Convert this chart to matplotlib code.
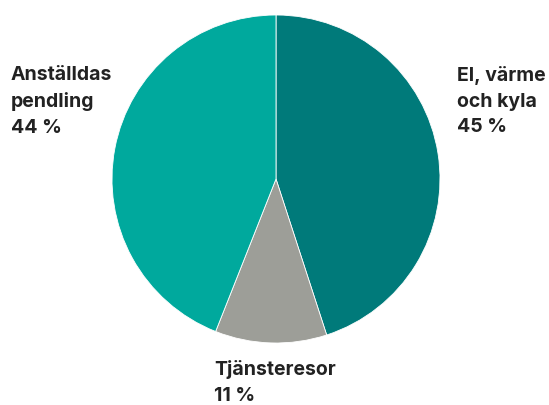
import matplotlib

matplotlib.use("Agg")
import matplotlib.pyplot as plt

# Andelar av utsläppen
CATEGORIES = ["El, värme\noch kyla", "Tjänsteresor", "Anställdas\npendling"]
VALUES = [45, 11, 44]
COLORS = ["#007A7A", "#9D9E98", "#00A99D"]

W, H = 549, 405
DPI = 100

fig = plt.figure(figsize=(W / DPI, H / DPI), dpi=DPI)

# pajen: centrum ca (276, 179) px, radie 164 px
cx, cy, r = 276, 179, 164
ax = fig.add_axes([(cx - r) / W, (H - cy - r) / H, 2 * r / W, 2 * r / H])
ax.pie(
    VALUES,
    colors=COLORS,
    startangle=90,
    counterclock=False,
    wedgeprops=dict(edgecolor="white", linewidth=0.6),
    radius=1.0,
)
ax.set_xlim(-1, 1)
ax.set_ylim(-1, 1)
ax.set_aspect("auto")
ax.axis("off")

# etiketter i pixelkoordinater (x, y från toppen)
LABEL_POS = [(457, 66), (214, 360), (11, 66)]
for cat, val, (px, py) in zip(CATEGORIES, VALUES, LABEL_POS):
    fig.text(
        px / W,
        1 - py / H,
        f"{cat}\n{val} %",
        ha="left",
        va="top",
        fontsize=14,
        fontweight="bold",
        family=["Inter", "DejaVu Sans"],
        color="#222222",
        linespacing=1.55,
    )

fig.savefig("out.png", dpi=DPI)
